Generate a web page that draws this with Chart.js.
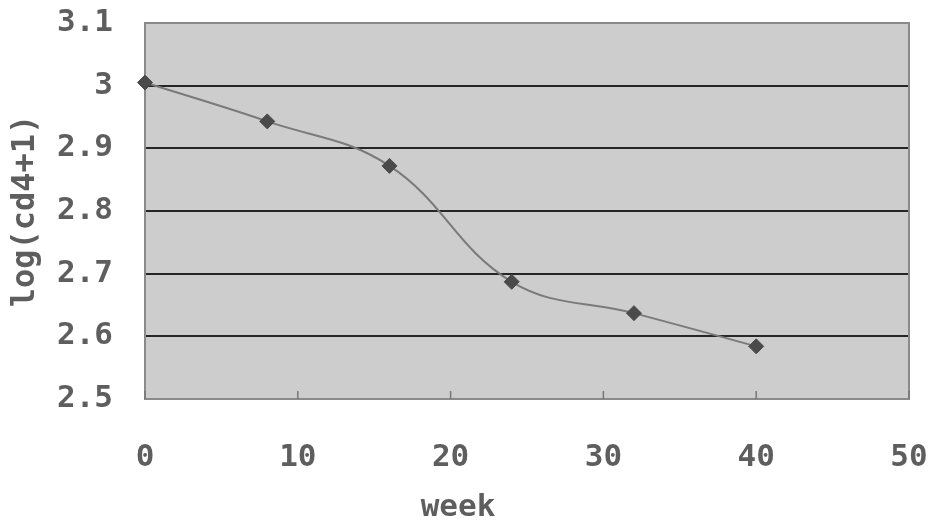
<!DOCTYPE html>
<html><head><meta charset="utf-8">
<script src="https://cdn.jsdelivr.net/npm/chart.js@4.4.1/dist/chart.umd.min.js"></script>
<style>html,body{margin:0;padding:0;background:#fff}#c{display:block}</style>
</head><body>
<canvas id="c" width="930" height="526"></canvas>
<script>
const weeks = [0, 8, 16, 24, 32, 40];
const logCd4 = [3.005, 2.943, 2.872, 2.687, 2.637, 2.584];
const xTicks = [0, 10, 20, 30, 40, 50];
const yTicks = [2.5, 2.6, 2.7, 2.8, 2.9, 3.0, 3.1];
const yLabels = ['2.5', '2.6', '2.7', '2.8', '2.9', '3', '3.1'];
const xTitle = 'week';
const yTitle = 'log(cd4+1)';

const FONT = {family: '"DejaVu Sans Mono", "Liberation Mono", monospace', size: 31, weight: 'bold'};
const TXT = '#5e5e5e';

const plotDeco = {
  id: 'plotDeco',
  beforeDraw(chart) {
    const {ctx, chartArea: a} = chart;
    ctx.save();
    ctx.fillStyle = '#cdcdcd';
    ctx.fillRect(a.left, a.top, a.right - a.left, a.bottom - a.top);
    ctx.restore();
  },
  beforeDatasetsDraw(chart) {
    const {ctx, chartArea: a, scales} = chart;
    ctx.save();
    ctx.strokeStyle = '#8a8a8a';
    ctx.lineWidth = 2;
    ctx.strokeRect(a.left, a.top, a.right - a.left, a.bottom - a.top);
    ctx.strokeStyle = '#777';
    ctx.lineWidth = 1.5;
    xTicks.forEach(v => {
      const x = scales.x.getPixelForValue(v);
      ctx.beginPath();
      ctx.moveTo(x, a.bottom);
      ctx.lineTo(x, a.bottom - 8);
      ctx.stroke();
    });
    ctx.restore();
  },
  afterDraw(chart) {
    const {ctx} = chart;
    ctx.save();
    ctx.fillStyle = TXT;
    ctx.font = `${FONT.weight} ${FONT.size}px ${FONT.family}`;
    ctx.textAlign = 'center';
    ctx.textBaseline = 'middle';
    ctx.fillText(xTitle, 458, 508);
    ctx.restore();
  }
};

new Chart(document.getElementById('c'), {
  type: 'line',
  data: {
    datasets: [{
      data: weeks.map((w, i) => ({x: w, y: logCd4[i]})),
      borderColor: '#7a7a7a',
      borderWidth: 2,
      tension: 0.4,
      pointStyle: 'rectRot',
      pointRadius: 7.5,
      pointBackgroundColor: '#4a4a4a',
      pointBorderColor: '#4a4a4a',
      pointBorderWidth: 1,
      fill: false,
      clip: false
    }]
  },
  plugins: [plotDeco],
  options: {
    responsive: false,
    animation: false,
    devicePixelRatio: 1,
    layout: {padding: {left: 0, top: 23, right: 21, bottom: 0}},
    plugins: {legend: {display: false}, tooltip: {enabled: false}},
    scales: {
      x: {
        type: 'linear', min: 0, max: 50,
        afterBuildTicks(s) { s.ticks = xTicks.map(v => ({value: v})); },
        afterFit(s) { s.height = 127; s.paddingLeft = 0; s.paddingRight = 0; },
        grid: {display: false, drawTicks: false},
        border: {display: false},
        ticks: {color: TXT, font: FONT, padding: 40, maxRotation: 0, autoSkip: false},
        title: {display: false, text: xTitle}
      },
      y: {
        type: 'linear', min: 2.5, max: 3.1,
        afterBuildTicks(s) { s.ticks = yTicks.map(v => ({value: v})); },
        afterFit(s) { s.width = 145; s.paddingTop = 0; s.paddingBottom = 0; },
        grid: {
          drawTicks: false,
          lineWidth: 2,
          color: c => (Math.abs(c.tick.value - 2.5) < 1e-6 || Math.abs(c.tick.value - 3.1) < 1e-6) ? 'rgba(0,0,0,0)' : '#262626'
        },
        border: {display: false},
        ticks: {
          color: TXT, font: FONT, padding: 32, autoSkip: false,
          callback: (v) => { const i = yTicks.findIndex(t => Math.abs(t - v) < 1e-6); return i >= 0 ? yLabels[i] : ''; }
        },
        title: {display: true, text: yTitle, color: TXT, font: {...FONT, size: 32}, padding: {top: 6, bottom: 0}}
      }
    }
  }
});
</script>
</body></html>
